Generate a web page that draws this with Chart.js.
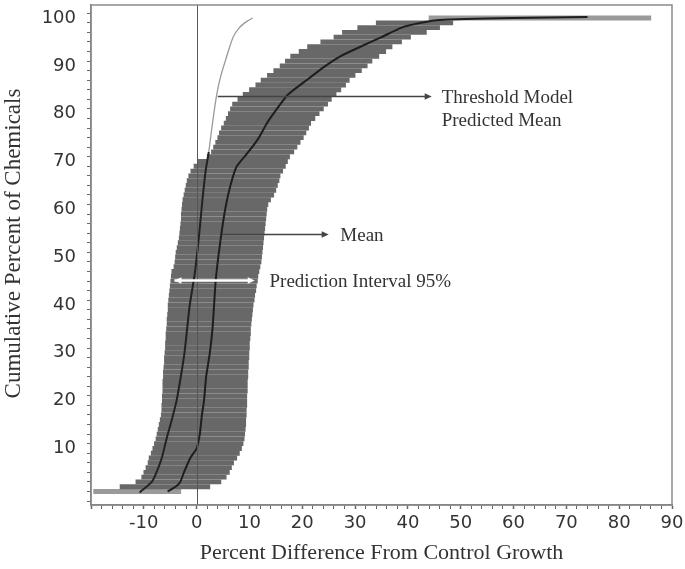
<!DOCTYPE html>
<html>
<head>
<meta charset="utf-8">
<script src="https://cdn.jsdelivr.net/npm/chart.js@4.4.0/dist/chart.umd.min.js"></script>
<style>
  html, body { margin: 0; padding: 0; background: #fff; }
</style>
</head>
<body>
<canvas id="cdfChart" width="685" height="569"></canvas>
<script>
// --- Data ---
// cumulative percent levels (one row of the prediction interval per level)
const pctLevels = [
  1, 2, 3, 4, 5, 6, 7, 8, 9, 10, 11, 12, 13, 14, 15, 16, 17, 18, 19, 20,
  21, 22, 23, 24, 25, 26, 27, 28, 29, 30, 31, 32, 33, 34, 35, 36, 37, 38, 39, 40,
  41, 42, 43, 44, 45, 46, 47, 48, 49, 50, 51, 52, 53, 54, 55, 56, 57, 58, 59, 60,
  61, 62, 63, 64, 65, 66, 67, 68, 69, 70, 71, 72, 73, 74, 75, 76, 77, 78, 79, 80,
  81, 82, 83, 84, 85, 86, 87, 88, 89, 90, 91, 92, 93, 94, 95, 96, 97, 98, 99, 100
];
// 95% prediction interval, lower bound (percent difference)
const lowerPI = [
  -19.5, -14.5, -11.5, -10.4, -10.0, -9.6, -9.2, -9.0, -8.6, -8.3,
  -8.0, -7.7, -7.5, -7.3, -7.1, -6.9, -6.7, -6.6, -6.6, -6.5,
  -6.5, -6.4, -6.4, -6.4, -6.3, -6.3, -6.2, -6.1, -6.1, -6.0,
  -5.9, -5.9, -5.8, -5.8, -5.7, -5.6, -5.6, -5.5, -5.4, -5.4,
  -5.3, -5.2, -5.1, -5.0, -4.9, -4.8, -4.7, -4.3, -4.1, -4.0,
  -3.9, -3.7, -3.5, -3.3, -3.2, -3.1, -3.0, -2.9, -2.9, -2.8,
  -2.7, -2.6, -2.4, -2.2, -2.0, -1.8, -1.5, -1.1, -0.5, 0.2,
  2.0, 2.8, 3.2, 3.6, 4.0, 4.3, 4.7, 5.2, 5.6, 6.0,
  6.4, 6.8, 7.8, 8.8, 10.0, 11.2, 12.2, 13.4, 14.6, 15.8,
  16.8, 17.8, 19.4, 21.0, 23.5, 26.0, 27.6, 30.5, 34.0, 44.0
];
// 95% prediction interval, upper bound
const upperPI = [
  -3.0, 2.5, 4.6, 5.6, 6.2, 6.6, 7.0, 7.6, 8.1, 8.5,
  8.8, 9.0, 9.1, 9.2, 9.3, 9.3, 9.4, 9.4, 9.5, 9.5,
  9.5, 9.6, 9.6, 9.6, 9.7, 9.7, 9.8, 9.8, 9.9, 9.9,
  10.0, 10.0, 10.1, 10.2, 10.2, 10.3, 10.4, 10.5, 10.6, 10.7,
  10.9, 11.0, 11.2, 11.3, 11.5, 11.6, 11.8, 12.0, 12.2, 12.3,
  12.4, 12.5, 12.6, 12.7, 12.8, 12.9, 13.0, 13.1, 13.2, 13.3,
  13.5, 14.0, 14.6, 15.0, 15.3, 15.6, 15.8, 16.3, 16.8, 17.2,
  17.6, 18.4, 19.0, 19.6, 20.2, 20.7, 21.2, 21.6, 22.4, 23.2,
  24.0, 24.8, 25.5, 26.4, 27.3, 28.2, 28.9, 30.0, 31.2, 32.3,
  33.2, 34.5, 35.8, 37.0, 38.8, 40.5, 43.5, 46.0, 48.5, 86.0
];
// mean curve
const meanPct  = [1, 2, 3, 5, 8, 9, 10, 13, 17, 20, 25, 30, 35, 40, 45, 50, 55, 60, 65, 69, 72, 75, 78, 81, 84, 87, 90, 92, 94, 96, 98, 99, 99.6, 100, 100.2];
const meanDiff = [-5.5, -4.0, -3.1, -2.4, -1.2, -0.6, 0.0, 0.6, 1.0, 1.4, 1.8, 2.5, 3.0, 3.3, 3.6, 4.1, 4.7, 5.4, 6.4, 7.6, 9.8, 11.8, 13.3, 15.2, 17.3, 20.8, 24.4, 27.2, 31.0, 35.0, 38.8, 42.5, 46.0, 60.0, 74.0];
// threshold model predicted mean
const thrPct  = [0.8, 3, 5, 8, 12, 16, 20, 25, 30, 35, 40, 47, 55, 62, 68, 72, 78, 84, 88, 92, 96, 98, 99.3, 100];
const thrDiff = [-10.8, -8.5, -7.6, -6.6, -5.7, -4.7, -3.8, -3.0, -2.3, -1.8, -1.3, -0.3, 0.5, 1.1, 1.7, 2.3, 3.0, 3.8, 4.6, 5.7, 6.9, 8.1, 9.5, 10.6];

const xTickLabels = [-10, 0, 10, 20, 30, 40, 50, 60, 70, 80, 90];
const yTickLabels = [10, 20, 30, 40, 50, 60, 70, 80, 90, 100];

// --- Styling helpers ---
const sansFont = 'DejaVu Sans, Arial, sans-serif';
const serifFont = 'Liberation Serif, Times New Roman, serif';
const textColor = '#333';

// annotation arrows, placed in data units
const notes = [
  { lines: ['Threshold Model', 'Predicted Mean'], y: 83.6, from: 4.0, to: 44.5, textAt: 46.4, color: '#444', both: false },
  { lines: ['Mean'], y: 54.9, from: 4.8, to: 25.0, textAt: 27.2, color: '#444', both: false },
  { lines: ['Prediction Interval 95%'], y: 45.3, from: -4.2, to: 11.0, textAt: 13.8, color: '#fff', both: true }
];

const drawHead = (ctx, x, y, dir, color) => {
    ctx.fillStyle = color;
    ctx.beginPath();
    ctx.moveTo(x, y);
    ctx.lineTo(x - dir * 7, y - 3.2);
    ctx.lineTo(x - dir * 7, y + 3.2);
    ctx.closePath();
    ctx.fill();
};

const notesPlugin = {
    id: 'notes',
    afterDatasetsDraw(chart) {
        const { ctx, chartArea: a, scales: { x, y } } = chart;
        ctx.save();

        // vertical reference line at zero
        const x0 = Math.round(x.getPixelForValue(0)) + 0.5;
        ctx.strokeStyle = '#555';
        ctx.lineWidth = 1;
        ctx.beginPath();
        ctx.moveTo(x0, a.top);
        ctx.lineTo(x0, a.bottom);
        ctx.stroke();

        // frame round the plot
        ctx.strokeStyle = '#8a8a8a';
        ctx.lineWidth = 1.5;
        ctx.strokeRect(a.left, a.top, a.right - a.left, a.bottom - a.top);

        // arrows and labels
        notes.forEach(n => {
            const py = Math.round(y.getPixelForValue(n.y)) + 0.5;
            const p1 = x.getPixelForValue(n.from);
            const p2 = x.getPixelForValue(n.to);
            ctx.strokeStyle = n.color;
            ctx.lineWidth = n.both ? 2.5 : 1.3;
            ctx.beginPath();
            ctx.moveTo(p1, py);
            ctx.lineTo(p2 - 4, py);
            ctx.stroke();
            drawHead(ctx, p2, py, 1, n.color);
            if (n.both) drawHead(ctx, p1, py, -1, n.color);

            ctx.fillStyle = textColor;
            ctx.font = '19px ' + serifFont;
            ctx.textAlign = 'left';
            ctx.textBaseline = 'middle';
            const tx = x.getPixelForValue(n.textAt);
            n.lines.forEach((t, i) => ctx.fillText(t, tx, py + 2 + i * 23));
        });
        ctx.restore();
    }
};

const bandData = pctLevels.map((p, i) => ({ y: p, x: [lowerPI[i], upperPI[i]] }));
const meanData = meanPct.map((p, i) => ({ x: meanDiff[i], y: p }));
const thrData = thrPct.map((p, i) => ({ x: thrDiff[i], y: p }));

const ctx = document.getElementById('cdfChart').getContext('2d');
new Chart(ctx, {
    type: 'bar',
    data: {
        datasets: [
            {
                type: 'line',
                label: 'Threshold Model Predicted Mean',
                data: thrData,
                borderColor: '#222',
                borderWidth: 2,
                pointRadius: 0,
                tension: 0.25,
                order: 1,
                segment: {
                    borderColor: c => c.p0.parsed.y >= 70 ? '#9a9a9a' : '#222',
                    borderWidth: c => c.p0.parsed.y >= 70 ? 1.3 : 2
                }
            },
            {
                type: 'line',
                label: 'Mean',
                data: meanData,
                borderColor: '#1e1e1e',
                borderWidth: 2,
                pointRadius: 0,
                tension: 0.2,
                order: 1
            },
            {
                type: 'bar',
                label: 'Prediction Interval 95%',
                data: bandData,
                // the extreme rows are faint thin tails in the figure
                backgroundColor: c => (c.dataIndex === 0 || c.dataIndex === pctLevels.length - 1) ? '#9a9a9a' : '#686868',
                borderWidth: 0,
                barThickness: 4.2,
                order: 3
            }
        ]
    },
    options: {
        responsive: false,
        animation: false,
        indexAxis: 'y',
        layout: { padding: { top: 5, right: 13, left: 0, bottom: 0 } },
        plugins: {
            legend: { display: false },
            tooltip: { enabled: false }
        },
        scales: {
            x: {
                type: 'linear',
                position: 'bottom',
                min: -20,
                max: 90,
                afterFit: s => { s.height = 64; s.paddingLeft = 0; s.paddingRight = 0; },
                ticks: {
                    stepSize: 2,
                    autoSkip: false,
                    maxRotation: 0,
                    padding: 4,
                    color: textColor,
                    font: { family: sansFont, size: 18 },
                    callback: v => xTickLabels.includes(v) ? String(v) : ''
                },
                grid: {
                    drawOnChartArea: false,
                    tickLength: 4,
                    color: '#666',
                    tickWidth: c => (c.tick && c.tick.value % 10 === 0) ? 1.5 : 1
                },
                border: { color: '#777', width: 1.5 },
                title: {
                    display: true,
                    text: 'Percent Difference From Control Growth',
                    color: textColor,
                    font: { family: serifFont, size: 22 },
                    padding: { top: 0, bottom: 3 }
                }
            },
            y: {
                type: 'linear',
                min: -0.8,
                max: 101.7,
                afterFit: s => { s.width = 91; s.paddingTop = 0; s.paddingBottom = 0; },
                ticks: {
                    stepSize: 2,
                    includeBounds: false,
                    autoSkip: false,
                    padding: 11,
                    color: textColor,
                    font: { family: sansFont, size: 18 },
                    callback: v => yTickLabels.includes(v) ? String(v) : ''
                },
                grid: {
                    drawOnChartArea: false,
                    tickLength: 4,
                    color: '#666'
                },
                border: { color: '#777', width: 1.5 },
                title: {
                    display: true,
                    text: '    Cumulative Percent of Chemicals',
                    color: textColor,
                    font: { family: serifFont, size: 23 },
                    padding: { top: 0, bottom: 0 }
                }
            }
        }
    },
    plugins: [notesPlugin]
});
</script>
</body>
</html>
